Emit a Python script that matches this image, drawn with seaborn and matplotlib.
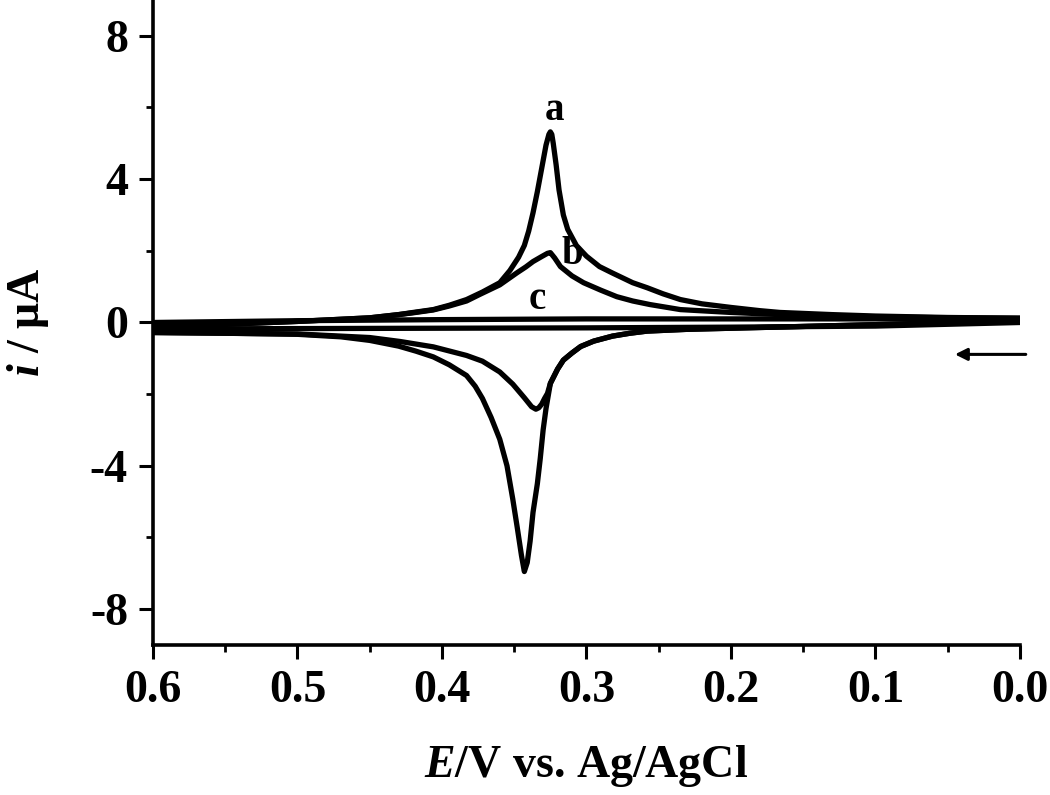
import numpy as np
import pandas as pd
import matplotlib
matplotlib.use("Agg")
import matplotlib.pyplot as plt
import seaborn as sns

# ---------------- data ----------------
# curve a, anodic (upper) branch, E from 0.6 to 0.0
a_up_E = [0.60, 0.55, 0.50, 0.45, 0.43, 0.42, 0.406, 0.395, 0.383, 0.372, 0.36, 0.353, 0.347, 0.343,
          0.340, 0.337, 0.334, 0.331, 0.328, 0.326, 0.325, 0.324, 0.323, 0.321, 0.319, 0.316, 0.313, 0.307,
          0.300, 0.291, 0.282, 0.268, 0.258, 0.247, 0.235, 0.220, 0.200, 0.180, 0.166, 0.130,
          0.100, 0.050, 0.0]
a_up_i = [-0.12, -0.05, 0.03, 0.13, 0.22, 0.28, 0.36, 0.48, 0.64, 0.85, 1.11, 1.45, 1.82, 2.15,
          2.55, 3.06, 3.65, 4.30, 4.95, 5.25, 5.32, 5.25, 5.00, 4.40, 3.70, 3.00, 2.60, 2.15,
          1.85, 1.56, 1.38, 1.11, 0.97, 0.80, 0.64, 0.52, 0.42, 0.33, 0.28, 0.22,
          0.18, 0.14, 0.12]
# curve a, cathodic (lower) branch, E from 0.6 to 0.0
a_dn_E = [0.60, 0.55, 0.50, 0.47, 0.45, 0.43, 0.418, 0.406, 0.395, 0.383, 0.377, 0.372, 0.366, 0.360,
          0.355, 0.351, 0.348, 0.345, 0.343, 0.341, 0.339, 0.337, 0.334, 0.332, 0.330, 0.328,
          0.325, 0.320, 0.316, 0.310, 0.304, 0.295, 0.282, 0.270, 0.258, 0.230, 0.200, 0.100, 0.0]
a_dn_i = [-0.28, -0.30, -0.33, -0.40, -0.50, -0.66, -0.80, -0.96, -1.18, -1.48, -1.78, -2.12, -2.65, -3.26,
          -4.00, -4.93, -5.70, -6.50, -6.95, -6.70, -6.10, -5.30, -4.50, -3.80, -3.00, -2.40,
          -1.70, -1.30, -1.05, -0.85, -0.67, -0.52, -0.38, -0.30, -0.24, -0.19, -0.16, -0.06, 0.05]

# curve b
b_up_E = [0.60, 0.55, 0.50, 0.45, 0.43, 0.42, 0.406, 0.395, 0.383, 0.374, 0.36, 0.354, 0.348, 0.342,
          0.337, 0.331, 0.327, 0.325, 0.322, 0.318, 0.310, 0.302, 0.290, 0.279, 0.268, 0.256,
          0.235, 0.200, 0.166, 0.100, 0.050, 0.0]
b_up_i = [-0.12, -0.05, 0.03, 0.13, 0.22, 0.27, 0.35, 0.46, 0.60, 0.78, 1.05, 1.22, 1.39, 1.55,
          1.70, 1.84, 1.93, 1.95, 1.80, 1.56, 1.30, 1.11, 0.90, 0.72, 0.60, 0.50,
          0.36, 0.28, 0.22, 0.16, 0.13, 0.12]
b_dn_E = [0.60, 0.55, 0.50, 0.45, 0.429, 0.406, 0.383, 0.372, 0.360, 0.351, 0.343, 0.338, 0.335,
          0.333, 0.331, 0.329, 0.327, 0.325, 0.320, 0.316, 0.310, 0.304, 0.295, 0.282, 0.270,
          0.258, 0.230, 0.200, 0.100, 0.0]
b_dn_i = [-0.28, -0.30, -0.32, -0.42, -0.53, -0.68, -0.92, -1.08, -1.38, -1.72, -2.10, -2.35, -2.42,
          -2.38, -2.28, -2.12, -1.98, -1.70, -1.30, -1.05, -0.85, -0.67, -0.52, -0.38, -0.30,
          -0.24, -0.19, -0.16, -0.06, 0.05]

# curve c (blank, almost flat)
c_up_E = [0.60, 0.50, 0.40, 0.30, 0.20, 0.10, 0.0]
c_up_i = [0.00, 0.05, 0.08, 0.10, 0.10, 0.10, 0.10]
c_dn_E = [0.60, 0.50, 0.40, 0.30, 0.20, 0.10, 0.0]
c_dn_i = [-0.18, -0.17, -0.16, -0.15, -0.13, -0.10, 0.00]

curve_names = ["a", "b", "c"]
label_E = [0.322, 0.310, 0.334]
label_i = [5.93, 1.89, 0.64]

x_ticks = [0.6, 0.5, 0.4, 0.3, 0.2, 0.1, 0.0]
y_ticks = [-8, -4, 0, 4, 8]

# ---------------- build long table ----------------
rows = []
for name, (uE, ui, dE, di) in zip(curve_names,
                                  [(a_up_E, a_up_i, a_dn_E, a_dn_i),
                                   (b_up_E, b_up_i, b_dn_E, b_dn_i),
                                   (c_up_E, c_up_i, c_dn_E, c_dn_i)]):
    E = list(uE) + list(dE[::-1])
    I = list(ui) + list(di[::-1])
    for k, (e, i) in enumerate(zip(E, I)):
        rows.append({"curve": name, "E": e, "i": i, "order": k})
df = pd.DataFrame(rows)

# ---------------- style ----------------
sns.set_style("ticks")
plt.rcParams["font.family"] = ["Liberation Serif", "DejaVu Serif"]
plt.rcParams["font.weight"] = "bold"
plt.rcParams["text.color"] = "black"
plt.rcParams["axes.edgecolor"] = "black"
plt.rcParams["axes.labelcolor"] = "black"
plt.rcParams["xtick.color"] = "black"
plt.rcParams["ytick.color"] = "black"
plt.rcParams["mathtext.fontset"] = "custom"
plt.rcParams["mathtext.rm"] = "Liberation Serif:bold"
plt.rcParams["mathtext.it"] = "Liberation Serif:italic:bold"
plt.rcParams["mathtext.bf"] = "Liberation Serif:bold"

fig = plt.figure(figsize=(10.5, 7.95), dpi=100)
ax = fig.add_axes([0.1457, 0.1887, 0.8257, 0.8113])

for name in curve_names:
    sub = df[df["curve"] == name]
    sns.lineplot(data=sub, x="E", y="i", sort=False, estimator=None,
                 color="black", linewidth=3.8, ax=ax, legend=False,
                 solid_joinstyle="round", solid_capstyle="butt")

ax.set_xlim(0.6, 0.0)
ax.set_ylim(-9, 9)
ax.set_xticks(x_ticks)
ax.set_xticklabels([f"{v:.1f}" for v in x_ticks])
ax.set_yticks(y_ticks)
ax.set_yticklabels([str(v) for v in y_ticks])
ax.set_xticks(np.arange(0.05, 0.6, 0.1), minor=True)
ax.set_yticks([-6, -2, 2, 6], minor=True)

for s in ["top", "right"]:
    ax.spines[s].set_visible(False)
for s in ["left", "bottom"]:
    ax.spines[s].set_linewidth(2.6)
    ax.spines[s].set_color("black")
ax.tick_params(axis="both", which="major", length=10, width=2.2, direction="out",
               labelsize=33, pad=8, colors="black")
ax.tick_params(axis="both", which="minor", length=5, width=2.0, direction="out", colors="black")
for t in ax.get_xticklabels() + ax.get_yticklabels():
    t.set_fontweight("bold")

ax.set_xlabel(r"$\mathit{E}$/V vs. Ag/AgCl", fontsize=33, fontweight="bold", labelpad=22,
              color="black")
ax.set_ylabel(r"$\mathit{i}$ / μA", fontsize=33, fontweight="bold", labelpad=28, color="black")

for name, e, i in zip(curve_names, label_E, label_i):
    ax.text(e, i, name, fontsize=28, fontweight="bold", ha="center", va="center", color="black")

ax.annotate("", xy=(0.045, -0.89), xytext=(-0.004, -0.89),
            arrowprops=dict(arrowstyle="-|>", color="black", lw=2.2,
                            mutation_scale=18, shrinkA=0, shrinkB=0),
            annotation_clip=False)

fig.savefig("out.png", dpi=100)
